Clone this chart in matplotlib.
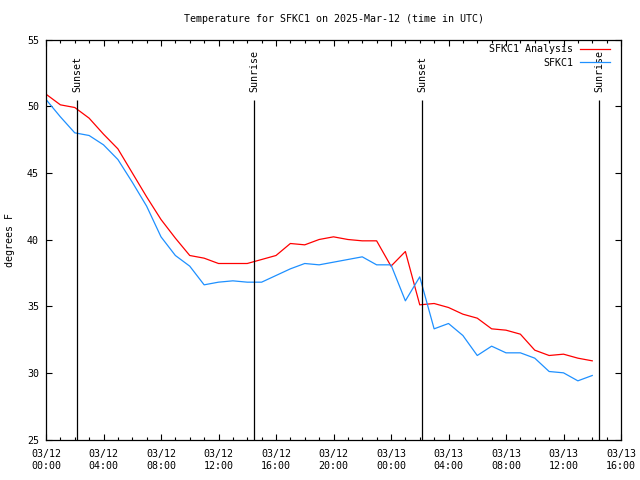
import matplotlib
matplotlib.use("Agg")
import matplotlib.pyplot as plt
import matplotlib.dates as mdates
import numpy as np

# hourly temperatures (deg F), starting 2025-03-12 00:00 UTC
start = np.datetime64("2025-03-12T00:00")
analysis = [50.9, 50.1, 49.9, 49.1, 47.9, 46.8, 45.0, 43.2, 41.5, 40.1,
            38.8, 38.6, 38.2, 38.2, 38.2, 38.5, 38.8, 39.7, 39.6, 40.0,
            40.2, 40.0, 39.9, 39.9, 38.0, 39.1, 35.1, 35.2, 34.9, 34.4,
            34.1, 33.3, 33.2, 32.9, 31.7, 31.3, 31.4, 31.1, 30.9]
observed = [50.5, 49.2, 48.0, 47.8, 47.1, 46.0, 44.3, 42.5, 40.2, 38.8,
            38.0, 36.6, 36.8, 36.9, 36.8, 36.8, 37.3, 37.8, 38.2, 38.1,
            38.3, 38.5, 38.7, 38.1, 38.1, 35.4, 37.2, 33.3, 33.7, 32.8,
            31.3, 32.0, 31.5, 31.5, 31.1, 30.1, 30.0, 29.4, 29.8]
times = start + np.arange(len(analysis)) * np.timedelta64(1, "h")

sun_times = ["2025-03-12T02:11", "2025-03-12T14:29", "2025-03-13T02:11", "2025-03-13T14:29"]
sun_labels = ["Sunset", "Sunrise", "Sunset", "Sunrise"]

plt.rcParams["font.family"] = "DejaVu Sans Mono"
plt.rcParams["font.size"] = 7.2

fig = plt.figure(figsize=(6.4, 4.8), dpi=100)
ax = fig.add_axes([46 / 640, 1 - 439.5 / 480, 575 / 640, 400 / 480])

ax.plot(times, analysis, color="#ff0000", lw=0.9, label="SFKC1 Analysis")
ax.plot(times, observed, color="#1e90ff", lw=0.9, label="SFKC1")

for t, lab in zip(sun_times, sun_labels):
    t = np.datetime64(t)
    ax.vlines(t, 25, 50.5, color="black", lw=0.9)
    ax.text(t, 51.05, lab, rotation=90, ha="center", va="bottom")

ax.set_xlim(start, np.datetime64("2025-03-13T16:00"))
ax.set_ylim(25, 55)
ax.set_yticks(np.arange(25, 56, 5))
ax.xaxis.set_major_locator(mdates.HourLocator(byhour=range(0, 24, 4)))
ax.xaxis.set_minor_locator(mdates.HourLocator())
ax.xaxis.set_major_formatter(mdates.DateFormatter("%m/%d\n%H:%M"))
ax.tick_params(which="both", direction="in", top=True, right=True, width=0.8)
ax.tick_params(which="major", length=4, pad=5)
ax.tick_params(axis="x", which="major", pad=7)
ax.tick_params(which="minor", length=2)
for s in ax.spines.values():
    s.set_linewidth(0.9)

ax.legend(loc="upper right", bbox_to_anchor=(609.5 / 640, 1 - 44.5 / 480),
          bbox_transform=fig.transFigure, frameon=False, markerfirst=False,
          handlelength=3.0, handletextpad=0.65, labelspacing=0.3,
          borderpad=0, borderaxespad=0)

fig.text(333.5 / 640, 1 - 19 / 480, "Temperature for SFKC1 on 2025-Mar-12 (time in UTC)",
         ha="center", va="center")
fig.text(10 / 640, 0.5, "degrees F", rotation=90, ha="center", va="center")

fig.savefig("out.png", dpi=100)
